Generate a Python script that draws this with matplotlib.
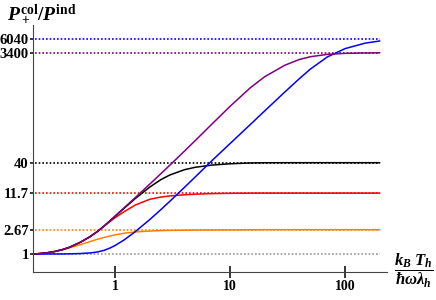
import numpy as np
import matplotlib.pyplot as plt

plt.rcParams['font.family'] = ['Liberation Serif', 'DejaVu Serif']
plt.rcParams['font.weight'] = 'bold'
plt.rcParams['mathtext.fontset'] = 'custom'
plt.rcParams['mathtext.rm'] = 'Liberation Serif:bold'
plt.rcParams['mathtext.bf'] = 'Liberation Serif:bold'
plt.rcParams['mathtext.it'] = 'Liberation Serif:bold:italic'

# temperature k_B T_h / (hbar omega lambda_h)
x = [0.2, 0.25, 0.3, 0.35, 0.4, 0.5, 0.6, 0.7, 0.8, 0.9, 1, 1.2, 1.5, 2, 2.5, 3, 4, 5, 7,
     10, 15, 20, 30, 40, 50, 70, 100, 150, 200]

orange = [1.0, 1.042, 1.109, 1.189, 1.279, 1.462, 1.644, 1.809, 1.948, 2.065, 2.167, 2.317,
          2.434, 2.527, 2.573, 2.597, 2.619, 2.630, 2.639, 2.647, 2.66, 2.67, 2.67, 2.67,
          2.67, 2.67, 2.67, 2.67, 2.67]
red = [1.0, 1.042, 1.109, 1.197, 1.309, 1.611, 1.991, 2.472, 3.06, 3.70, 4.34, 5.54, 7.24,
       9.12, 9.98, 10.46, 10.95, 11.2, 11.47, 11.61, 11.68, 11.7, 11.7, 11.7, 11.7, 11.7,
       11.7, 11.7, 11.7]
black = [1.0, 1.042, 1.109, 1.197, 1.309, 1.611, 1.991, 2.472, 3.08, 3.80, 4.59, 6.37, 9.42,
         14.9, 20.2, 24.4, 30.1, 33.3, 36.4, 38.3, 39.6, 39.9, 40, 40, 40, 40, 40, 40, 40]
purple = [1.0, 1.042, 1.109, 1.197, 1.309, 1.611, 1.991, 2.472, 3.09, 3.82, 4.65, 6.49, 9.79,
          16.8, 25.6, 36.4, 63.5, 98.6, 193, 390, 826, 1291, 2056, 2588, 2897, 3184, 3319,
          3373, 3400]
blue = [1.0, 1.0, 1.0, 1.002, 1.006, 1.019, 1.042, 1.083, 1.157, 1.268, 1.411, 1.770, 2.475,
        4.014, 6.00, 8.45, 14.68, 22.7, 44.0, 86.7, 187, 324, 698, 1189, 1758, 2864, 4018,
        5023, 5470]

levels = [1, 2.67, 11.7, 40, 3400, 6040]
level_labels = ['1', '2.67', '11.7', '40', '3400', '6040']
level_colors = ['#999999', '#ff8000', '#ff0000', '#000000', '#800080', '#0000ff']

fig = plt.figure(figsize=(4.36, 3.0), dpi=100)
ax = fig.add_axes([33/436, 28/300, (387-33)/436, (272-25)/300])

for lv, c in zip(levels, level_colors):
    ax.plot([x[0], x[-1]], [lv, lv], color=c, lw=1.2, ls=(0, (1, 1.2)))

ax.plot(x, orange, color='#ff8000', lw=1.1)
ax.plot(x, red, color='#ff0000', lw=1.1)
ax.plot(x, black, color='#000000', lw=1.1)
ax.plot(x, blue, color='#0000ff', lw=1.1)
ax.plot(x, purple, color='#800080', lw=1.1)

ax.set_xscale('log')
ax.set_yscale('log')
ax.set_xlim(0.193, 232)
ax.set_ylim(0.483, 10440)

ax.spines['top'].set_visible(False)
ax.spines['right'].set_visible(False)
ax.spines['left'].set_color('#444444')
ax.spines['bottom'].set_color('#444444')

ax.set_xticks([1, 10, 100])
ax.set_xticklabels(['1', '10', '100'])
ax.set_xticks([], minor=True)
ax.set_yticks(levels)
ax.set_yticklabels(level_labels)
ax.set_yticks([], minor=True)
ax.tick_params(axis='x', direction='inout', length=8, width=1.1, labelsize=10, pad=2)
ax.tick_params(axis='y', direction='out', length=2.5, width=1.1, labelsize=10.5, pad=0.5)

fig.text(7/436, 1 - 14/300, r'$P_+^{\mathrm{col}}/P^{\mathrm{ind}}$', fontsize=14,
         ha='left', va='center')
fig.text(414/436, 1 - 271/300, r'$\dfrac{k_B\ T_h}{\hbar\omega\lambda_h}$', fontsize=12,
         ha='center', va='center')

fig.savefig('out.png', dpi=100)
